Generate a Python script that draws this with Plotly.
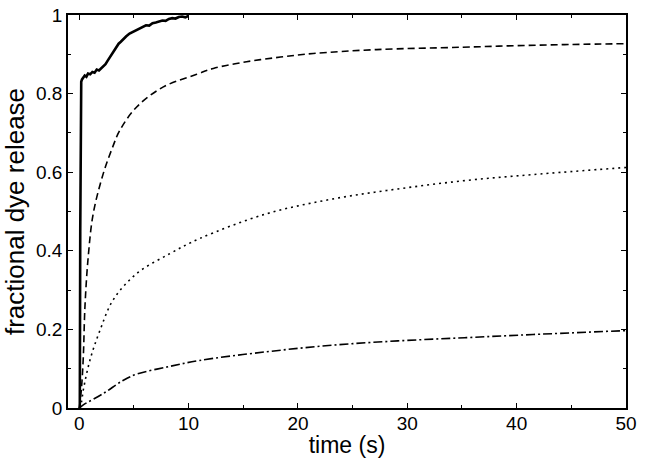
import plotly.graph_objects as go

# solid (fast) trace, noisy
t_fast = [0.0, 0.05, 0.09, 0.13, 0.18, 0.25, 0.35, 0.5, 0.65, 0.8, 1.0, 1.2, 1.4, 1.6, 1.8, 2.0,
          2.2, 2.4, 2.6, 2.8, 3.0, 3.2, 3.4, 3.6, 3.8, 4.0, 4.3, 4.6, 4.9, 5.2, 5.5, 5.8,
          6.1, 6.4, 6.7, 7.0, 7.3, 7.6, 7.9, 8.2, 8.5, 8.8, 9.1, 9.4, 9.7, 10.0]
y_fast = [0.0, 0.0, 0.45, 0.80, 0.830, 0.836, 0.840, 0.846, 0.843, 0.851, 0.849, 0.855, 0.853, 0.861,
          0.859, 0.865, 0.869, 0.875, 0.884, 0.893, 0.903, 0.912, 0.920, 0.927, 0.932, 0.938, 0.946,
          0.953, 0.957, 0.963, 0.967, 0.970, 0.974, 0.973, 0.979, 0.981, 0.984, 0.986, 0.985,
          0.990, 0.992, 0.991, 0.995, 0.996, 0.994, 0.998]

t_dash = [0.0, 0.2, 0.37, 0.52, 0.82, 1.28, 2.2, 3.0, 3.72, 5.25, 7.69, 10.74, 12.26,
          15.3, 18.4, 21.4, 27.2, 35.0, 40.0, 45.0, 50.0]
y_dash = [0.0, 0.05, 0.130, 0.258, 0.385, 0.495, 0.597, 0.660, 0.707, 0.766, 0.817, 0.849,
          0.864, 0.881, 0.893, 0.902, 0.912, 0.918, 0.922, 0.925, 0.927]

t_dot = [0.0, 0.2, 0.37, 0.98, 1.9, 3.1, 5.25, 8.3, 11.0, 17.1, 23.2, 29.3, 35.4, 41.5, 50.0]
y_dot = [0.0, 0.015, 0.046, 0.122, 0.198, 0.275, 0.342, 0.393, 0.431, 0.494, 0.532, 0.558,
         0.579, 0.594, 0.612]

t_dd = [0.0, 0.37, 2.2, 4.0, 5.25, 8.3, 11.0, 17.1, 23.2, 29.3, 35.4, 41.5, 50.0]
y_dd = [0.0, 0.008, 0.037, 0.070, 0.086, 0.106, 0.121, 0.143, 0.160, 0.171, 0.179, 0.187, 0.197]

x_tickvals = [0, 10, 20, 30, 40, 50]
y_tickvals = [0, 0.2, 0.4, 0.6, 0.8, 1]
y_ticktext = ["0", "0.2", "0.4", "0.6", "0.8", "1"]

fig = go.Figure()
fig.add_trace(go.Scatter(x=t_fast, y=y_fast, mode="lines",
                         line=dict(color="black", width=2.6)))
fig.add_trace(go.Scatter(x=t_dash, y=y_dash, mode="lines", line_shape="spline",
                         line=dict(color="black", width=1.6, dash="7px,4px")))
fig.add_trace(go.Scatter(x=t_dot, y=y_dot, mode="lines", line_shape="spline",
                         line=dict(color="black", width=1.6, dash="2px,4px")))
fig.add_trace(go.Scatter(x=t_dd, y=y_dd, mode="lines", line_shape="spline",
                         line=dict(color="black", width=1.6, dash="9px,3px,2px,3px")))

font = "Liberation Sans, Arial, Helvetica, sans-serif"
axis_common = dict(showline=True, linecolor="black", linewidth=1.5, mirror="ticks",
                   ticks="inside", ticklen=5, tickwidth=1.2, tickcolor="black",
                   showgrid=False, zeroline=False, automargin=False,
                   tickfont=dict(family=font, size=19, color="black"))
fig.update_xaxes(range=[-1.03, 50], tickvals=x_tickvals, ticklabelstandoff=-3,
                 minor=dict(ticks="inside", ticklen=3, tickwidth=1.2, tickcolor="black", dtick=5, tick0=0),
                 title=dict(text="time (s)", font=dict(family=font, size=23, color="black"), standoff=4),
                 **axis_common)
fig.update_yaxes(range=[0, 1], tickvals=y_tickvals, ticktext=y_ticktext,
                 minor=dict(ticks="inside", ticklen=3, tickwidth=1.2, tickcolor="black", dtick=0.1, tick0=0),
                 title=dict(text="fractional dye release", font=dict(family=font, size=26, color="black"), standoff=8),
                 **axis_common)
fig.update_layout(width=645, height=464, margin=dict(l=68, r=19, t=15, b=56),
                  plot_bgcolor="white", paper_bgcolor="white", showlegend=False)
fig.write_html("out.html", config={"displayModeBar": False},
               post_script="document.body.style.margin='0';document.body.style.overflow='hidden';")
